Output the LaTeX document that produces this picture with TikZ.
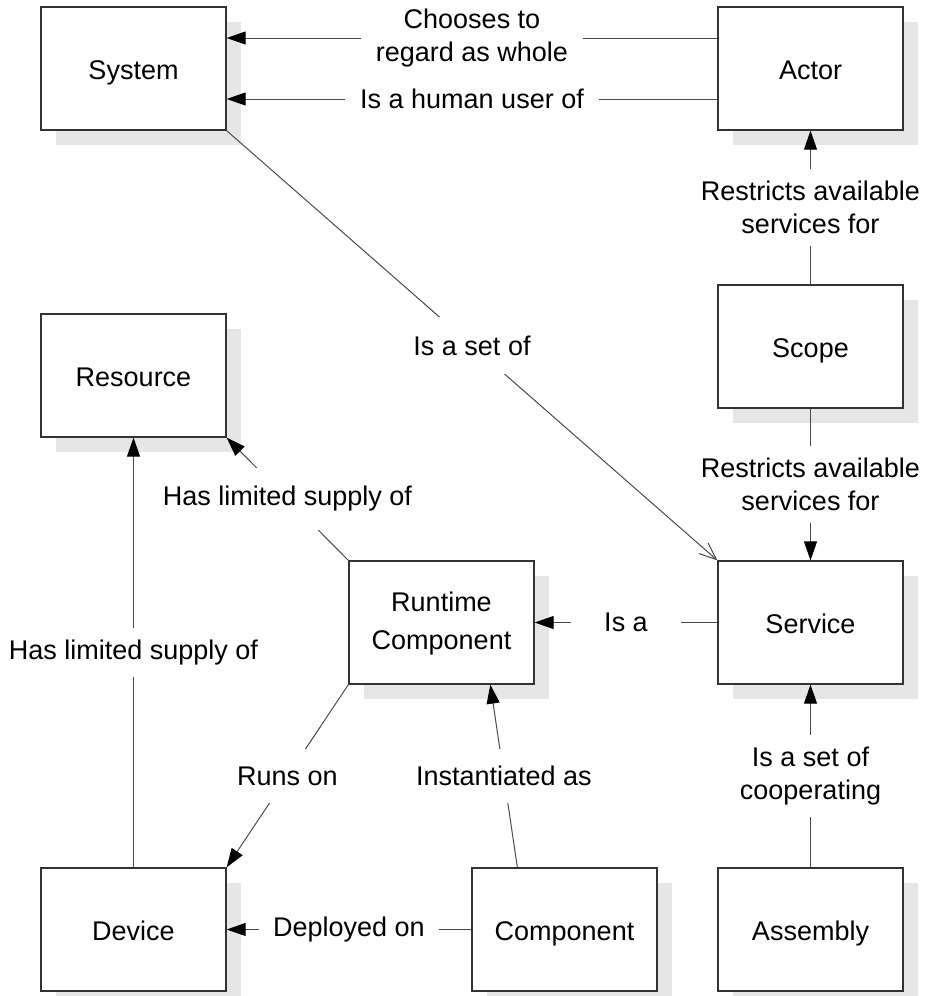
\documentclass[tikz,border=0pt]{standalone}
\usepackage{fontspec}
\setmainfont{Liberation Sans}
\usetikzlibrary{arrows.meta,calc}

\definecolor{boxline}{HTML}{333333}
\definecolor{connline}{HTML}{4A4A4A}
\definecolor{shadowgray}{HTML}{E6E6E6}

\tikzset{
  entity/.style={draw=boxline, line width=1.3pt, fill=white,
    minimum width=185pt, minimum height=123pt, inner sep=0pt,
    align=center, font=\fontsize{27}{33}\selectfont},
  conn/.style={draw=connline, line width=1pt},
  solidhead/.style={-{Triangle[length=19pt,width=13pt,black]}},
  openhead/.style={-{Straight Barb[length=17pt,width=14pt,line width=1pt]}},
  rel/.style={fill=white, inner xsep=15pt, inner ysep=16pt,
    align=center, font=\fontsize{27}{33}\selectfont, midway}
}

% draw an entity box with its offset drop shadow;
% #4 lowers the text without changing the box that TikZ centres
\newcommand{\entitybox}[4][4pt]{%
  \fill[shadowgray] ($(#3)+(15,15)+(-92.5,-61.5)$) rectangle ($(#3)+(15,15)+(92.5,61.5)$);
  \node[entity] (#2) at (#3) {\raisebox{-#1}[\height][\depth]{\begin{tabular}{@{}c@{}}#4\end{tabular}}};
}

\begin{document}
\begin{tikzpicture}[x=1pt, y=-1pt]
  \useasboundingbox[fill=white] (0,0) rectangle (928,996);

  \entitybox{System}{133.5,68.5}{System}
  \entitybox{Actor}{810.5,68.5}{Actor}
  \entitybox{Scope}{810.5,346.5}{Scope}
  \entitybox{Resource}{133.5,375.5}{Resource}
  \entitybox[1pt]{Runtime}{441.5,622.5}{Runtime\\[5pt]Component}
  \entitybox{Service}{810.5,622.5}{Service}
  \entitybox{Device}{133.5,929.5}{Device}
  \entitybox{Component}{564.5,929.5}{Component}
  \entitybox{Assembly}{810.5,929.5}{Assembly}

  % end points of the slanted Component -> Runtime Component link
  \coordinate (compTop) at ($(Component.north west)+(46,0)$);
  \coordinate (rtBottom) at ($(Runtime.south west)+(142,0)$);

  % Actor -> System
  \draw[conn, solidhead] ([yshift=30.5pt]Actor.west) -- ([yshift=30.5pt]System.east)
    node[rel] {Chooses to\\regard as whole};
  \draw[conn, solidhead] ([yshift=-30.5pt]Actor.west) -- ([yshift=-30.5pt]System.east)
    node[rel] {Is a human user of};

  % Scope -> Actor, Scope -> Service
  \draw[conn, solidhead] (Scope.north) -- (Actor.south)
    node[rel, inner ysep=12pt] {Restricts available\\services for};
  \draw[conn, solidhead] (Scope.south) -- (Service.north)
    node[rel, inner ysep=12pt] {Restricts available\\services for};

  % System -> Service
  \draw[conn, openhead] (System.south east) -- (Service.north west)
    node[rel, inner xsep=6pt, inner ysep=19pt] {Is a set of};

  % Service -> Runtime Component
  \draw[conn, solidhead] (Service.west) -- (Runtime.east)
    node[rel, inner xsep=33pt] {Is a};

  % Runtime Component -> Resource
  \draw[conn, solidhead] (Runtime.north west) -- (Resource.south east)
    node[rel, inner xsep=4pt, inner ysep=18pt] {Has limited supply of};

  % Device -> Resource
  \draw[conn, solidhead] (Device.north) -- (Resource.south)
    node[rel, inner xsep=4pt, inner ysep=12pt] {Has limited supply of};

  % Runtime Component -> Device
  \draw[conn, solidhead] (Runtime.south west) -- (Device.north east)
    node[rel, inner xsep=6pt, inner ysep=18pt] {Runs on};

  % Component -> Runtime Component
  \draw[conn, solidhead] (compTop) -- (rtBottom)
    node[rel, inner xsep=6pt, inner ysep=17pt] {Instantiated as};

  % Component -> Device
  \draw[conn, solidhead] (Component.west) -- (Device.east)
    node[rel, inner xsep=14pt] {Deployed on};

  % Assembly -> Service
  \draw[conn, solidhead] (Assembly.north) -- (Service.south)
    node[rel, inner ysep=12pt] {Is a set of\\cooperating};
\end{tikzpicture}
\end{document}
